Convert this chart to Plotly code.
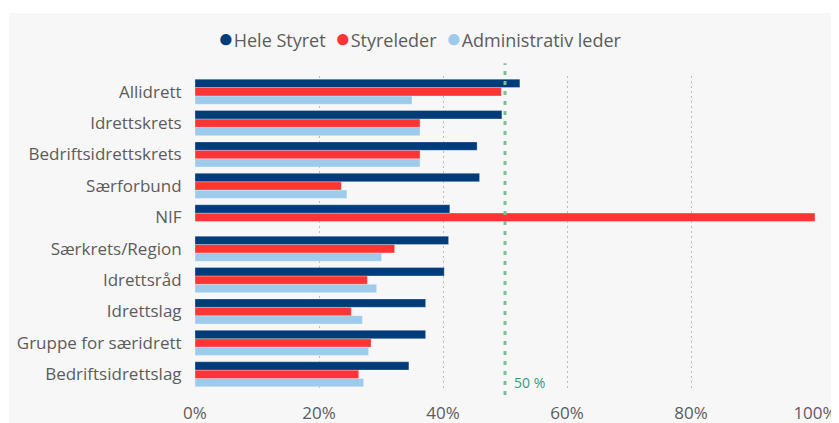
import plotly.graph_objects as go

categories = ["Allidrett", "Idrettskrets", "Bedriftsidrettskrets", "Særforbund", "NIF",
              "Særkrets/Region", "Idrettsråd", "Idrettslag", "Gruppe for særidrett", "Bedriftsidrettslag"]
hele_styret = [0.524, 0.495, 0.455, 0.459, 0.411, 0.409, 0.402, 0.372, 0.372, 0.345]
styreleder = [0.494, 0.363, 0.363, 0.236, 1.000, 0.322, 0.278, 0.252, 0.284, 0.264]
admin_leder = [0.350, 0.363, 0.363, 0.245, 0.0, 0.301, 0.293, 0.270, 0.280, 0.272]
series_names = ["Hele Styret", "Styreleder", "Administrativ leder"]
x_ticks = [0, 0.2, 0.4, 0.6, 0.8, 1.0]
x_tick_labels = ["0%", "20%", "40%", "60%", "80%", "100%"]
threshold = 0.5
threshold_label = "50 %"

c_navy = "#003b7a"
c_red = "#ff3434"
c_light = "#9ecbec"
txt = "#5c5c5c"
FONT = "Open Sans"

fig = go.Figure()
for name, vals, col in [(series_names[2], admin_leder, c_light),
                        (series_names[1], styreleder, c_red),
                        (series_names[0], hele_styret, c_navy)]:
    fig.add_trace(go.Bar(y=categories, x=vals, orientation="h", name=name,
                         marker=dict(color=col, line=dict(width=0.6, color="rgba(255,255,255,0.5)")),
                         showlegend=False))

fig.add_shape(type="line", xref="x", yref="paper", x0=threshold, x1=threshold, y0=-0.016, y1=1.041,
              line=dict(color="#7cbf95", width=3, dash="4px,6px"), layer="above")
fig.add_annotation(x=threshold, xref="x", y=-0.012, yref="paper", text=threshold_label, showarrow=False,
                   xanchor="left", xshift=7, font=dict(color="#3a9a78", size=14, family=FONT))

# legend drawn as text with coloured dots
legend_text = "  ".join(
    f"<span style='color:{c};font-size:26px'>●</span>{n}"
    for n, c in zip(series_names, [c_navy, c_red, c_light]))
fig.add_annotation(x=(420 - 195) / 620, xref="paper", y=(390 - 37) / 314, yref="paper",
                   text=legend_text, showarrow=False, xanchor="center", yanchor="middle",
                   font=dict(size=18, color=txt, family=FONT))

# white page strips around the grey panel
fig.add_shape(type="rect", xref="paper", yref="paper", x0=-1, x1=2, y0=1.2006, y1=2,
              fillcolor="white", line=dict(width=0), layer="below")
fig.add_shape(type="rect", xref="paper", yref="paper", x0=-1, x1=-0.3, y0=-1, y1=2,
              fillcolor="white", line=dict(width=0), layer="below")

fig.update_layout(
    width=831, height=415,
    margin=dict(l=187, r=24, t=68, b=33),
    paper_bgcolor="#f7f7f7", plot_bgcolor="#f7f7f7",
    barmode="group", bargap=0.2, bargroupgap=0,
    font=dict(family=FONT, color=txt, size=16),
    showlegend=False,
    xaxis=dict(range=[0, 1.0], tickvals=x_ticks, ticktext=x_tick_labels, automargin=False,
               showgrid=True, gridcolor="#bcbcbc", griddash="2px,3px", gridwidth=1,
               zeroline=False, showline=False, tickfont=dict(size=17, color=txt),
               ticks="outside", ticklen=8, tickcolor="rgba(0,0,0,0)"),
    yaxis=dict(categoryorder="array", categoryarray=categories[::-1], automargin=False,
               showgrid=False, zeroline=False, showline=False,
               tickfont=dict(size=17, color=txt),
               ticks="outside", ticklen=9, tickcolor="rgba(0,0,0,0)"),
)
fig.write_html("out.html")
